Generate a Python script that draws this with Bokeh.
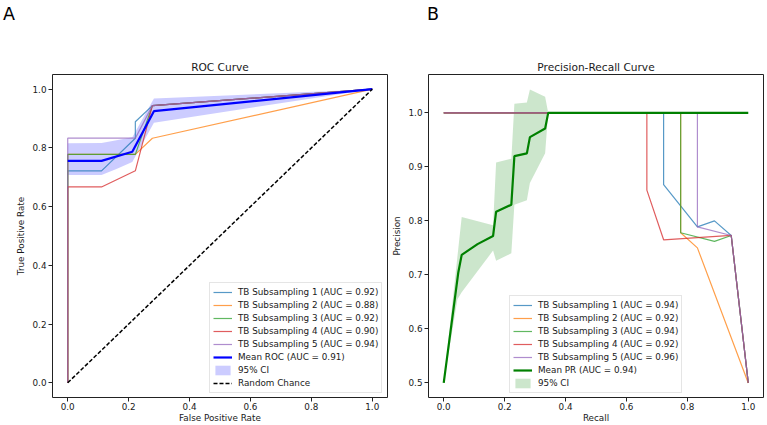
from bokeh.plotting import figure
from bokeh.models import Range1d, FixedTicker, PrintfTickFormatter, Legend, LegendItem, Title, Div
from bokeh.layouts import row, column
from bokeh.embed import file_html
from bokeh.resources import INLINE

# ---------------- data ----------------
colors = ["#1f77b4", "#ff7f0e", "#2ca02c", "#d62728", "#9467bd"]
names = ["TB Subsampling 1", "TB Subsampling 2", "TB Subsampling 3",
         "TB Subsampling 4", "TB Subsampling 5"]

roc_auc = [0.92, 0.88, 0.92, 0.90, 0.94]
roc_mean_auc = 0.91
roc_fpr_1 = [0.0, 0.0, 0.111, 0.222, 0.222, 0.278, 1.0]
roc_tpr_1 = [0.0, 0.722, 0.722, 0.833, 0.889, 0.944, 1.0]
roc_fpr_2 = [0.0, 0.0, 0.222, 0.278, 1.0]
roc_tpr_2 = [0.0, 0.778, 0.778, 0.833, 1.0]
roc_fpr_3 = [0.0, 0.0, 0.222, 0.278, 1.0]
roc_tpr_3 = [0.0, 0.778, 0.778, 0.944, 1.0]
roc_fpr_4 = [0.0, 0.0, 0.111, 0.222, 0.278, 1.0]
roc_tpr_4 = [0.0, 0.667, 0.667, 0.722, 0.944, 1.0]
roc_fpr_5 = [0.0, 0.0, 0.222, 0.278, 1.0]
roc_tpr_5 = [0.0, 0.833, 0.833, 0.944, 1.0]
roc_mean_fpr = [0.0, 0.111, 0.212, 0.283, 1.0]
roc_mean_tpr = [0.756, 0.756, 0.787, 0.925, 1.0]
roc_ci_fpr = [0.0, 0.111, 0.160, 0.212, 0.283, 1.0]
roc_ci_upper = [0.816, 0.817, 0.826, 0.836, 0.968, 1.0]
roc_ci_lower = [0.708, 0.708, 0.728, 0.752, 0.886, 1.0]
chance_x = [0.0, 1.0]
chance_y = [0.0, 1.0]

pr_auc = [0.94, 0.92, 0.94, 0.92, 0.96]
pr_mean_auc = 0.94
pr_rec_1 = [0.0, 0.722, 0.722, 0.833, 0.889, 0.944, 1.0]
pr_prec_1 = [1.0, 1.0, 0.867, 0.789, 0.800, 0.773, 0.5]
pr_rec_2 = [0.0, 0.778, 0.778, 0.833, 1.0]
pr_prec_2 = [1.0, 1.0, 0.778, 0.750, 0.5]
pr_rec_3 = [0.0, 0.778, 0.778, 0.889, 0.944, 1.0]
pr_prec_3 = [1.0, 1.0, 0.778, 0.762, 0.773, 0.5]
pr_rec_4 = [0.0, 0.667, 0.667, 0.722, 0.944, 1.0]
pr_prec_4 = [1.0, 1.0, 0.857, 0.765, 0.773, 0.5]
pr_rec_5 = [0.0, 0.833, 0.833, 0.944, 1.0]
pr_prec_5 = [1.0, 1.0, 0.789, 0.773, 0.5]
pr_mean_rec = [0.0, 0.048, 0.059, 0.111, 0.162, 0.172, 0.222, 0.232, 0.273, 0.283, 0.333, 0.343, 1.0]
pr_mean_prec = [0.5, 0.705, 0.737, 0.757, 0.772, 0.817, 0.830, 0.920, 0.925, 0.955, 0.971, 1.0, 1.0]
pr_ci_rec = [0.0, 0.045, 0.059, 0.162, 0.172, 0.222, 0.232, 0.273, 0.283, 0.333, 0.343, 1.0]
pr_ci_upper = [0.5, 0.734, 0.807, 0.792, 0.908, 0.915, 1.017, 1.019, 1.043, 1.030, 1.0, 1.0]
pr_ci_lower = [0.5, 0.655, 0.668, 0.745, 0.726, 0.740, 0.830, 0.838, 0.870, 0.925, 1.0, 1.0]

roc_x = [roc_fpr_1, roc_fpr_2, roc_fpr_3, roc_fpr_4, roc_fpr_5]
roc_y = [roc_tpr_1, roc_tpr_2, roc_tpr_3, roc_tpr_4, roc_tpr_5]
pr_x = [pr_rec_1, pr_rec_2, pr_rec_3, pr_rec_4, pr_rec_5]
pr_y = [pr_prec_1, pr_prec_2, pr_prec_3, pr_prec_4, pr_prec_5]

FONT = "DejaVu Sans"
TXT = "#1a1a1a"
HEAD = 25  # height of the panel-letter strip


def style(p, yticks, title):
    p.outline_line_color = "#222222"
    p.outline_line_width = 1
    p.xgrid.visible = False
    p.ygrid.visible = False
    p.background_fill_color = "white"
    p.border_fill_color = "white"
    p.xaxis.ticker = FixedTicker(ticks=[0.0, 0.2, 0.4, 0.6, 0.8, 1.0])
    p.yaxis.ticker = FixedTicker(ticks=yticks)
    for ax in (p.xaxis[0], p.yaxis[0]):
        ax.formatter = PrintfTickFormatter(format="%.1f")
        ax.axis_line_color = None
        ax.major_tick_in = 0
        ax.major_tick_out = 4
        ax.major_tick_line_color = "#222222"
        ax.minor_tick_line_color = None
        ax.major_label_text_font = FONT
        ax.major_label_text_font_size = "8.8px"
        ax.major_label_text_color = TXT
        ax.axis_label_text_font = FONT
        ax.axis_label_text_font_size = "8.8px"
        ax.axis_label_text_font_style = "normal"
        ax.axis_label_text_color = TXT
    p.xaxis.major_label_standoff = 1
    p.xaxis.axis_label_standoff = 0
    p.yaxis.major_label_standoff = 2
    p.yaxis.axis_label_standoff = 4
    t = Title(text=title, align="center", text_font=FONT, text_font_size="10.6px",
              text_font_style="normal", text_color=TXT, standoff=4)
    p.add_layout(t, "above")


def letter_div(letter, width, pad_left):
    html = (f'<div style="font-family: \'DejaVu Sans\'; font-size: 17.5px; line-height: 20px; '
            f'padding: 4px 0 0 {pad_left}px; margin: 0; color: black;">{letter}</div>')
    return Div(text=html, width=width, height=HEAD, margin=0)


def style_legend(lg):
    lg.label_text_font = FONT
    lg.label_text_font_size = "8.8px"
    lg.label_text_color = TXT
    lg.label_height = 12
    lg.glyph_height = 12
    lg.glyph_width = 19
    lg.label_standoff = 6
    lg.spacing = 1
    lg.padding = 3
    lg.margin = 0
    lg.border_line_color = "#cccccc"
    lg.border_line_width = 1
    lg.background_fill_alpha = 0.8


# ---------------- ROC ----------------
p1 = figure(width=388, height=425 - HEAD, output_backend="svg", toolbar_location=None,
            x_range=Range1d(-0.05, 1.05), y_range=Range1d(-0.05, 1.05),
            min_border_left=52, min_border_right=1, min_border_top=74 - HEAD, min_border_bottom=28,
            x_axis_label="False Positive Rate", y_axis_label="True Positive Rate")
style(p1, [0.0, 0.2, 0.4, 0.6, 0.8, 1.0], "ROC Curve")

items1 = []
ci1 = p1.varea(x=roc_ci_fpr, y1=roc_ci_lower, y2=roc_ci_upper, fill_color="blue", fill_alpha=0.2)
for i in range(5):
    r = p1.line(roc_x[i], roc_y[i], line_color=colors[i], line_alpha=0.75, line_width=1.2)
    items1.append(LegendItem(label=f"{names[i]} (AUC = {roc_auc[i]:.2f})", renderers=[r]))
m1 = p1.line(roc_mean_fpr, roc_mean_tpr, line_color="blue", line_width=2.2)
ch = p1.line(chance_x, chance_y, line_color="black", line_width=1.5, line_dash="4 2")
items1.append(LegendItem(label=f"Mean ROC (AUC = {roc_mean_auc:.2f})", renderers=[m1]))
items1.append(LegendItem(label="95% CI", renderers=[ci1]))
items1.append(LegendItem(label="Random Chance", renderers=[ch]))
lg1 = Legend(items=items1, location=(157, 4))
style_legend(lg1)
p1.add_layout(lg1)

# ---------------- PR ----------------
p2 = figure(width=378, height=425 - HEAD, output_backend="svg", toolbar_location=None,
            x_range=Range1d(-0.05, 1.05), y_range=Range1d(0.473, 1.071),
            min_border_left=40, min_border_right=3, min_border_top=74 - HEAD, min_border_bottom=28,
            x_axis_label="Recall", y_axis_label="Precision")
style(p2, [0.5, 0.6, 0.7, 0.8, 0.9, 1.0], "Precision-Recall Curve")

items2 = []
ci2 = p2.varea(x=pr_ci_rec, y1=pr_ci_lower, y2=pr_ci_upper, fill_color="green", fill_alpha=0.2)
for i in range(5):
    r = p2.line(pr_x[i], pr_y[i], line_color=colors[i], line_alpha=0.75, line_width=1.2)
    items2.append(LegendItem(label=f"{names[i]} (AUC = {pr_auc[i]:.2f})", renderers=[r]))
m2 = p2.line(pr_mean_rec, pr_mean_prec, line_color="green", line_width=2.2)
items2.append(LegendItem(label=f"Mean PR (AUC = {pr_mean_auc:.2f})", renderers=[m2]))
items2.append(LegendItem(label="95% CI", renderers=[ci2]))
lg2 = Legend(items=items2, location=(81, 4))
style_legend(lg2)
p2.add_layout(lg2)

layout = row(column(letter_div("A", 388, 3), p1), column(letter_div("B", 378, 39), p2))
open("out.html", "w").write(file_html(layout, INLINE))
